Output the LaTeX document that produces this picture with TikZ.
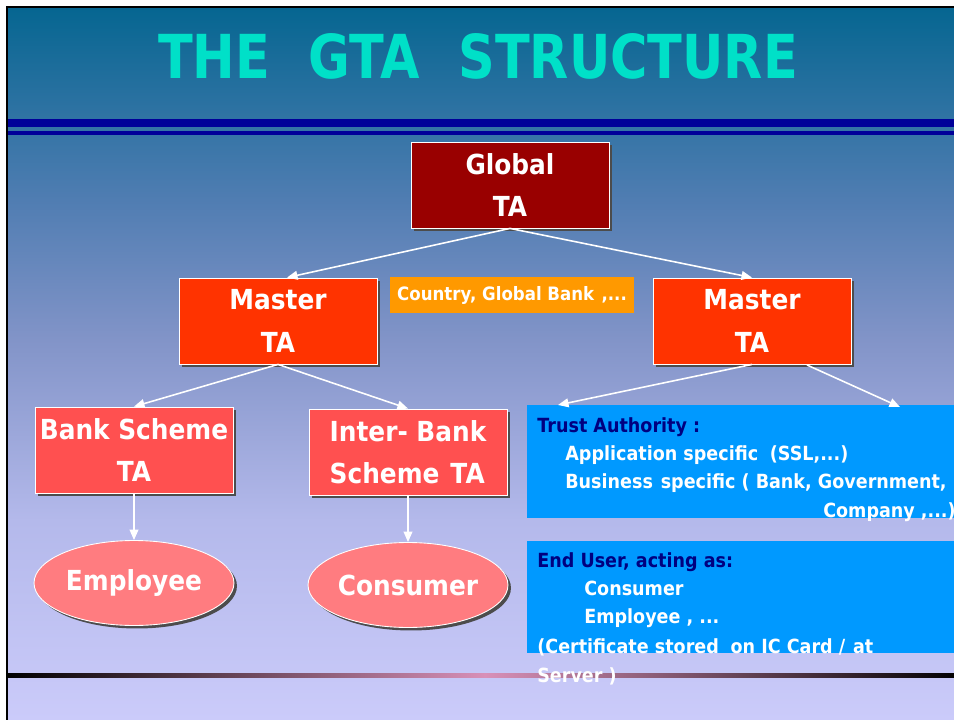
\documentclass[tikz,border=0pt]{standalone}
\usepackage{fontspec}
\setmainfont{DejaVu Sans}[FakeStretch=0.9]
\newfontfamily\titlefont{DejaVu Sans}[FakeStretch=0.84]
\usetikzlibrary{arrows.meta,shadows,shapes.geometric}

\definecolor{bgA}{HTML}{066691}
\definecolor{bgB}{HTML}{507DB2}
\definecolor{bgC}{HTML}{8294C8}
\definecolor{bgD}{HTML}{B4B9EB}
\definecolor{bgE}{HTML}{CBCBFA}
\definecolor{rulecol}{HTML}{000099}
\definecolor{titlecol}{HTML}{00E0C8}
\definecolor{globalcol}{HTML}{990000}
\definecolor{mastercol}{HTML}{FF3300}
\definecolor{schemecol}{HTML}{FF5050}
\definecolor{usercol}{HTML}{FF7C80}
\definecolor{labelcol}{HTML}{FF9900}
\definecolor{infocol}{HTML}{0099FF}
\definecolor{headcol}{HTML}{000080}
\definecolor{pinkcol}{HTML}{D890B8}

\pgfdeclareverticalshading{gtabg}{100bp}{color(0bp)=(bgE); color(25bp)=(bgE); color(39bp)=(bgD); color(51.7bp)=(bgC); color(61.5bp)=(bgB); color(75bp)=(bgA); color(100bp)=(bgA)}

\begin{document}
\begin{tikzpicture}[x=0.02cm,y=-0.02cm,
  tabox/.style={draw=white,line width=0.5pt,text=white,align=center,inner sep=0pt,
    font=\bfseries\fontsize{15.7}{24}\selectfont,minimum width=3.96cm,minimum height=1.72cm,
    drop shadow={opacity=1,fill=black!70,shadow xshift=0.06cm,shadow yshift=-0.06cm}},
  useroval/.style={ellipse,draw=white,line width=0.5pt,fill=usercol,text=white,inner sep=0pt,
    font=\bfseries\fontsize{15.7}{18}\selectfont,minimum width=4cm,minimum height=1.7cm,
    drop shadow={opacity=1,fill=black!70,shadow xshift=0.06cm,shadow yshift=-0.06cm}},
  infobox/.style={fill=infocol,inner sep=0pt,anchor=north west},
  infoline/.style={anchor=base west,inner sep=0pt,text=white,font=\bfseries\fontsize{11.1}{13}\selectfont},
  link/.style={white,line width=0.9pt,-{Triangle[length=6pt,width=5pt]}}]

\fill[white] (0,0) rectangle (954,720);
\useasboundingbox (0,0) rectangle (954,720);
\shade[shading=gtabg] (8,8) rectangle (962,720);
\draw[line width=0.05cm] (7,720) -- (7,7) -- (962,7);
\fill[rulecol] (8,119) rectangle (962,127);
\fill[rulecol] (8,131) rectangle (962,135);
\shade[left color=black,right color=black,middle color=pinkcol] (8,673) rectangle (962,677);

\node[anchor=base,text=titlecol,inner sep=0pt,font=\titlefont\bfseries\fontsize{34.5}{36}\selectfont]
  (title) at (478,78) {THE\hspace{22pt}GTA\hspace{22pt}STRUCTURE};

\node[tabox,fill=globalcol] (gta) at (510,185) {Global\\TA};
\node[tabox,fill=mastercol] (ml) at (278,321) {Master\\TA};
\node[tabox,fill=mastercol] (mr) at (752,321) {Master\\TA};
\node[fill=labelcol,text=white,inner sep=0pt,minimum width=4.9cm,minimum height=0.72cm,
  font=\bfseries\fontsize{10.5}{12}\selectfont] (region) at (512,295) {Country, Global Bank\hspace{0.4em},...};
\node[tabox,fill=schemecol] (bank) at (134,450) {Bank Scheme\\TA};
\node[tabox,fill=schemecol,align=left] (inter) at (408,452) {Inter- Bank\\Scheme\hspace{0.4em}TA};
\node[useroval] (emp) at (134,583) {Employee};
\node[useroval] (cons) at (408,585) {Consumer};

\node[infobox,minimum width=8.9cm,minimum height=2.26cm] (trust) at (527,405) {};
\node[infobox,minimum width=8.9cm,minimum height=2.24cm] (enduser) at (527,541) {};

\node[infoline,text=headcol] (t1) at (537,432) {Trust Authority :};
\node[infoline] (t2) at (565,460) {Application specific\hspace{0.6em}(SSL,...)};
\node[infoline] (t3) at (565,488) {Business\hspace{0.4em}specific ( Bank, Government,};
\node[infoline,anchor=base east] (t4) at (956,517) {Company ,...)};

\node[infoline,text=headcol] (u1) at (537,567) {End User, acting as:};
\node[infoline] (u2) at (584,595) {Consumer};
\node[infoline] (u3) at (584,623) {Employee , ...};
\node[infoline] (u4) at (537,653) {(Certificate stored\hspace{0.6em}on IC Card /\hspace{0.4em}at};
\node[infoline] (u5) at (537,682) {Server )};

\coordinate (mrB) at (807,365);
\coordinate (trA) at (558,405);
\coordinate (trB) at (900,407);

\draw[link] (gta.south) -- ([xshift=0.18cm]ml.north);
\draw[link] (gta.south) -- (mr.north);
\draw[link] (ml.south) -- (bank.north);
\draw[link] (ml.south) -- (inter.north);
\draw[link] (mr.south) -- (trA);
\draw[link] (mrB) -- (trB);
\draw[link] (bank.south) -- (emp.north);
\draw[link] (inter.south) -- (cons.north);

\end{tikzpicture}
\end{document}
